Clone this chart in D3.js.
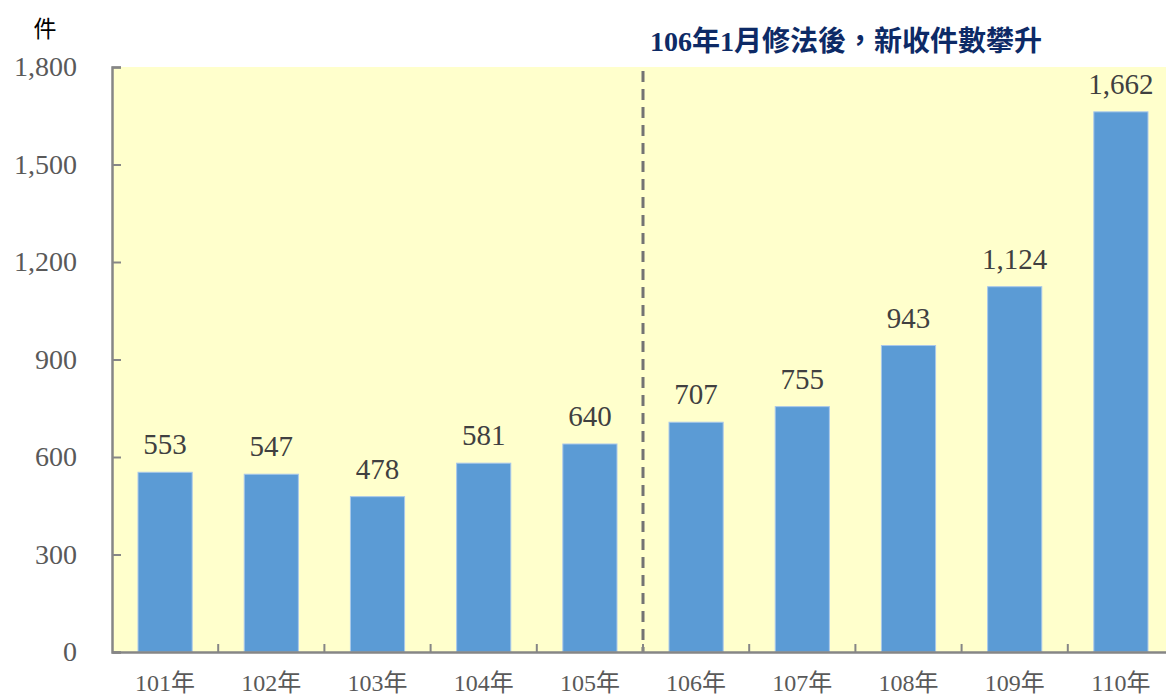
<!DOCTYPE html>
<html>
<head>
<meta charset="utf-8">
<script src="https://cdn.jsdelivr.net/npm/d3@7"></script>
<style>
  html, body { margin: 0; padding: 0; background: #fff; overflow: hidden; }
  svg { display: block; }
</style>
</head>
<body>
<svg id="chart" width="1166" height="695"></svg>
<script>
const categories = ["101年", "102年", "103年", "104年", "105年", "106年", "107年", "108年", "109年", "110年"];
const values = [553, 547, 478, 581, 640, 707, 755, 943, 1124, 1662];
const yTicks = [0, 300, 600, 900, 1200, 1500, 1800];
const dividerAfter = "105年";
const titleText = "106年1月修法後，新收件數攀升";
const unitText = "件";

(function () {
const svg = d3.select("#chart");
const mLeft = 112, mTop = 67, mBottom = 652, mRight = 1174;

const x = d3.scaleBand().domain(categories).range([mLeft, mRight]).paddingInner(0.49).paddingOuter(0.245);
const y = d3.scaleLinear().domain([0, 1800]).range([mBottom, mTop]);

const serif = "'Liberation Serif', 'Times New Roman', 'Noto Sans CJK TC', serif";

// background
svg.append("rect").attr("x", mLeft).attr("y", mTop).attr("width", mRight - mLeft).attr("height", mBottom - mTop).attr("fill", "#FFFFCC");

// bars
svg.append("g").selectAll("rect").data(values).join("rect")
  .attr("x", (d, i) => x(categories[i]))
  .attr("y", d => y(d))
  .attr("width", x.bandwidth())
  .attr("height", d => y(0) - y(d))
  .attr("fill", "#5B9BD5")
  .attr("stroke", "#A9C8EA")
  .attr("stroke-width", 1);

// value labels
svg.append("g").selectAll("text").data(values).join("text")
  .attr("x", (d, i) => x(categories[i]) + x.bandwidth() / 2)
  .attr("y", d => y(d) - 18)
  .attr("text-anchor", "middle")
  .attr("font-family", serif)
  .attr("font-size", 29)
  .attr("fill", "#404040")
  .text(d => d3.format(",")(d));

// divider
const step = x.step();
const gap = step - x.bandwidth();
const divX = x(dividerAfter) + x.bandwidth() + gap / 2;
svg.append("line")
  .attr("x1", divX).attr("x2", divX).attr("y1", mTop + 4).attr("y2", mBottom)
  .attr("stroke", "#737373").attr("stroke-width", 3).attr("stroke-dasharray", "11,7");

// y axis
const yAxis = d3.axisLeft(y).tickValues(yTicks).tickSize(-9).tickPadding(0).tickFormat(d3.format(","));
const gy = svg.append("g").attr("transform", `translate(${mLeft},0)`).call(yAxis);
gy.select(".domain").attr("stroke", "#868686").attr("stroke-width", 2.5);
gy.selectAll(".tick line").attr("stroke", "#868686").attr("stroke-width", 2);
gy.selectAll(".tick text")
  .attr("x", -35)
  .attr("font-family", serif).attr("font-size", 28).attr("fill", "#595959");

// x axis
const xAxis = d3.axisBottom(x).tickSize(0).tickPadding(0);
const gx = svg.append("g").attr("transform", `translate(0,${mBottom})`).call(xAxis);
gx.select(".domain").attr("stroke", "#868686").attr("stroke-width", 2.5);
gx.selectAll(".tick text")
  .attr("y", 39)
  .attr("dy", null)
  .attr("font-family", serif).attr("font-size", 24).attr("fill", "#595959");

// x boundary ticks (between categories)
const boundaries = categories.slice(1).map(c => x(c) - gap / 2);
svg.append("g").selectAll("line").data(boundaries).join("line")
  .attr("x1", d => d).attr("x2", d => d)
  .attr("y1", mBottom).attr("y2", mBottom - 8)
  .attr("stroke", "#868686").attr("stroke-width", 2);

// unit
svg.append("text").attr("x", 45).attr("y", 37).attr("text-anchor", "middle")
  .attr("font-family", "'Noto Sans CJK TC', serif").attr("font-size", 23).attr("fill", "#000")
  .text(unitText);

// title
svg.append("text").attr("x", 846).attr("y", 51).attr("text-anchor", "middle")
  .attr("font-family", "'Liberation Serif', 'Noto Sans CJK TC', serif").attr("font-weight", "bold")
  .attr("font-size", 28).attr("fill", "#0D2A66")
  .text(titleText);
})();
</script>
</body>
</html>
